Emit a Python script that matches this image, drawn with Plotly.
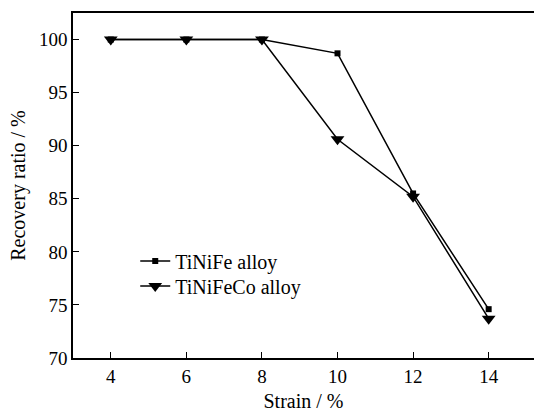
import plotly.graph_objects as go

strain = [4, 6, 8, 10, 12, 14]
tinife = [100, 100, 100, 98.7, 85.5, 74.6]
tinifeco = [100, 100, 100, 90.6, 85.2, 73.7]
x_ticks = [4, 6, 8, 10, 12, 14]
y_ticks = [70, 75, 80, 85, 90, 95, 100]

FONT = "Liberation Serif"

fig = go.Figure()
fig.add_trace(go.Scatter(
    x=strain, y=tinife, mode="lines+markers", name="TiNiFe alloy",
    line=dict(color="black", width=1.5),
    marker=dict(symbol="square", size=6, color="black"),
    legend="legend",
))
fig.add_trace(go.Scatter(
    x=strain, y=tinifeco, mode="lines+markers", name="TiNiFeCo alloy",
    line=dict(color="black", width=1.5),
    marker=dict(symbol="triangle-down", size=12, color="black"),
    legend="legend2",
))

legend_common = dict(
    xanchor="left", yanchor="middle",
    bgcolor="rgba(0,0,0,0)", font=dict(family=FONT, size=20, color="black"),
)

fig.update_layout(
    width=534, height=412, autosize=False,
    margin=dict(l=73, r=0, t=13, b=54),
    paper_bgcolor="white", plot_bgcolor="white",
    font=dict(family=FONT, size=19, color="black"),
    showlegend=True,
    legend=dict(x=0.135, y=0.281, **legend_common),
    legend2=dict(x=0.135, y=0.209, **legend_common),
    xaxis=dict(
        range=[3, 15.2], tickvals=x_ticks, ticks="inside", ticklen=6, tickwidth=1.2,
        tickcolor="black", showline=True, linecolor="black", linewidth=1.5,
        mirror=True, showgrid=False, zeroline=False, automargin=False,
        title=dict(text="Strain / %", font=dict(family=FONT, size=20), standoff=10),
        tickfont=dict(family=FONT, size=19),
    ),
    yaxis=dict(
        range=[70, 102.5], tickvals=y_ticks, ticks="inside", ticklen=6, tickwidth=1.2,
        tickcolor="black", showline=True, linecolor="black", linewidth=1.5,
        mirror=False, showgrid=False, zeroline=False, automargin=False,
        title=dict(text="Recovery ratio / %", font=dict(family=FONT, size=20), standoff=8),
        tickfont=dict(family=FONT, size=19),
    ),
)

fig.write_html(
    "out.html",
    config={"displayModeBar": False},
    post_script="document.body.style.margin='0';document.body.style.overflow='hidden';",
)
